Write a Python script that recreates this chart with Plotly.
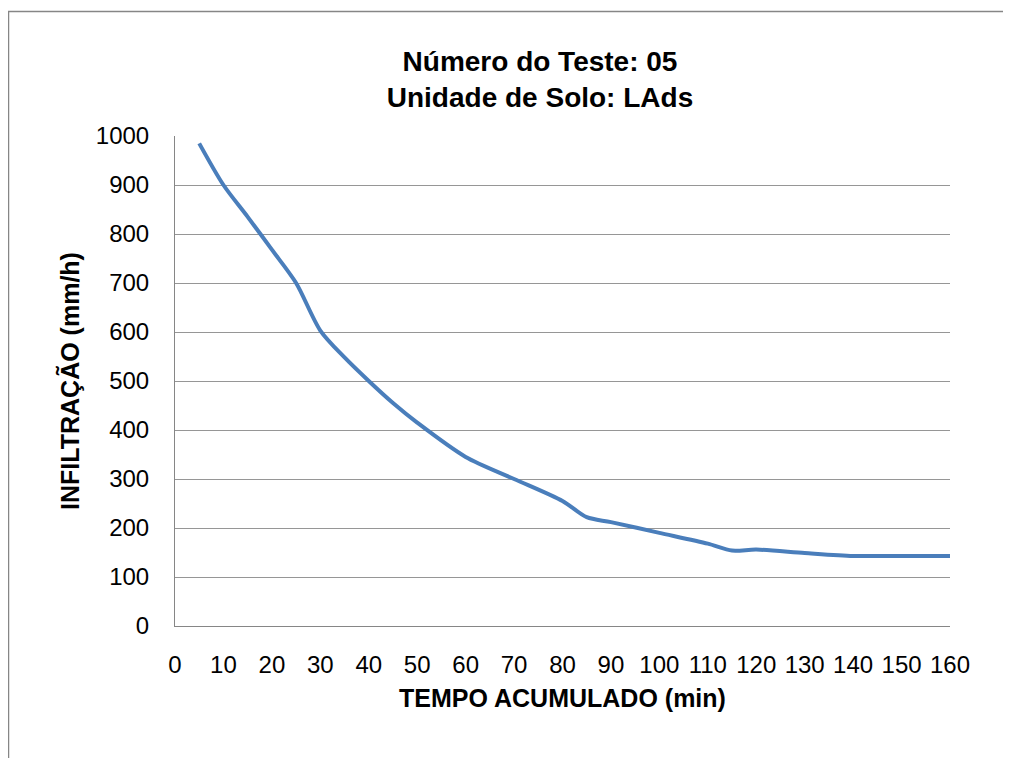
import plotly.graph_objects as go

tempo = [5, 10, 15, 20, 25, 30, 35, 40, 45, 50, 60, 70, 80, 85, 90, 100, 110, 115, 120, 130, 140, 150, 160]
infiltracao = [985, 900, 835, 768, 700, 603, 548, 500, 455, 415, 345, 300, 255, 222, 212, 190, 168, 154, 156, 149, 143, 143, 143]
x_ticks = list(range(0, 161, 10))
y_ticks = list(range(0, 1001, 100))

# page has an 8px body margin; figure occupies page x 8..1011, y 8..758
OFF = 8
W, H = 1011 - OFF, 758 - OFF
L, R, T, B = 175, 950, 136, 626  # plot area in page pixels

def px(xp):
    return (xp - L) / (R - L)

def py(yp):
    return (B - yp) / (B - T)

fig = go.Figure()
fig.add_trace(go.Scatter(
    x=tempo, y=infiltracao, mode="lines",
    line=dict(color="#4A7EBB", width=4, shape="spline", smoothing=0.8),
    showlegend=False, hoverinfo="x+y",
))

font_family = "Liberation Sans, Arial, sans-serif"

fig.update_layout(
    width=W, height=H,
    margin=dict(l=L - OFF, r=1011 - R, t=T - OFF, b=758 - B, pad=0),
    paper_bgcolor="white", plot_bgcolor="white",
    font=dict(family=font_family, color="black", size=24),
    title=dict(
        text="<b>Número do Teste: 05<br>Unidade de Solo: LAds</b>",
        x=(540 - OFF) / W, xanchor="center", y=1 - (71 - OFF) / H, yanchor="middle",
        font=dict(size=28, family=font_family, color="black"),
    ),
    xaxis=dict(
        range=[0, 160], tickvals=x_ticks, ticktext=[str(v) for v in x_ticks],
        showgrid=False, zeroline=False, showline=True, linecolor="#868686", linewidth=1,
        ticks="outside", ticklen=17, tickcolor="rgba(0,0,0,0)",
        tickfont=dict(size=24),
        title=dict(text="<b>TEMPO ACUMULADO (min)</b>", font=dict(size=25), standoff=12),
        fixedrange=True,
    ),
    yaxis=dict(
        range=[0, 1000], tickvals=y_ticks, ticktext=[str(v) for v in y_ticks],
        showgrid=True, gridcolor="#969696", gridwidth=1,
        zeroline=False, showline=True, linecolor="#868686", linewidth=1,
        ticks="outside", ticklen=20, tickcolor="rgba(0,0,0,0)",
        tickfont=dict(size=24),
        title=dict(text="<b>INFILTRAÇÃO (mm/h)</b>", font=dict(size=25), standoff=9),
        fixedrange=True,
    ),
    shapes=[
        dict(type="rect", xref="paper", yref="paper",
             x0=px(8.5), x1=px(1040), y0=py(800), y1=py(11.5),
             line=dict(color="#868686", width=1.5), fillcolor="rgba(0,0,0,0)", layer="below"),
    ],
)

fig.write_html("out.html")
